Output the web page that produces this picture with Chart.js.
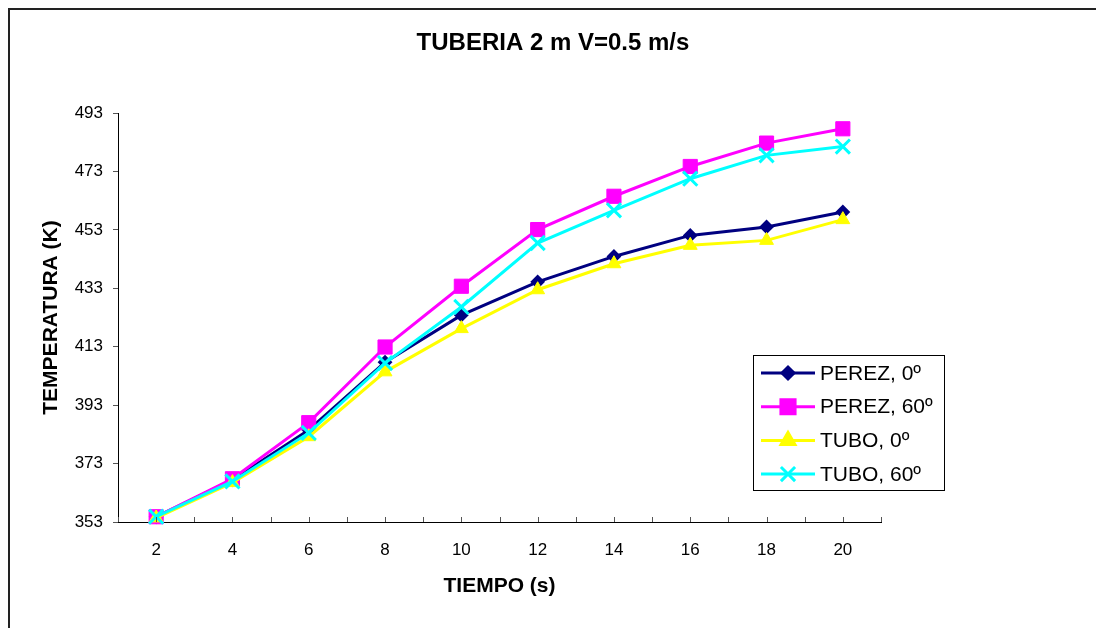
<!DOCTYPE html>
<html>
<head>
<meta charset="utf-8">
<script src="https://cdn.jsdelivr.net/npm/chart.js@4/dist/chart.umd.min.js"></script>
<style>
  html, body { margin: 0; padding: 0; background: #fff; overflow: hidden; }
  #wrap { position: relative; width: 1096px; height: 628px; }
  #frame { position: absolute; left: 8px; top: 8px; width: 1200px; height: 700px;
           border-top: 2px solid #222; border-left: 2px solid #222; }
  #wrap canvas { position: absolute; left: 0; top: 0; }
</style>
</head>
<body>
<div id="wrap">
  <div id="frame"></div>
  <canvas id="grafico"></canvas>
</div>
<script>
// Datos
var tiempos = [2, 4, 6, 8, 10, 12, 14, 16, 18, 20];
var perez0  = [354.8, 367.4, 384.5, 407.7, 423.8, 435.2, 443.9, 451.1, 454.0, 459.1];
var perez60 = [354.8, 367.8, 387.0, 412.9, 433.7, 453.1, 464.5, 474.7, 482.7, 487.6];
var tubo0   = [354.4, 366.5, 382.2, 404.4, 419.2, 432.5, 441.4, 447.7, 449.4, 456.5];
var tubo60  = [354.8, 366.9, 383.5, 407.4, 426.6, 448.5, 459.7, 470.5, 478.5, 481.5];
var ticksY  = [353, 373, 393, 413, 433, 453, 473, 493];
var etiquetas = ['PEREZ, 0º', 'PEREZ, 60º', 'TUBO, 0º', 'TUBO, 60º'];

var fuente = "'Liberation Sans', Arial, sans-serif";

// Construir los puntos x/y
function puntos(valores) {
    return tiempos.map(function (t, i) { return { x: t, y: valores[i] }; });
}

// Marcas de graduacion del eje X hacia adentro
var marcasX = {
    id: 'marcasX',
    afterDraw: function (chart) {
        var ctx = chart.ctx;
        var xs = chart.scales.x;
        ctx.save();
        ctx.strokeStyle = '#555';
        ctx.lineWidth = 1;
        for (var v = 1; v <= 21; v++) {
            var px = Math.round(xs.getPixelForValue(v)) + 0.5;
            ctx.beginPath();
            ctx.moveTo(px, xs.top);
            ctx.lineTo(px, xs.top - 5);
            ctx.stroke();
        }
        ctx.restore();
    }
};

// Leyenda dibujada a mano (linea + marcador)
var leyenda = {
    id: 'leyenda',
    afterDraw: function (chart) {
        var ctx = chart.ctx;
        var x0 = 753, y0 = 355, w = 191, h = 135;
        ctx.save();
        ctx.fillStyle = '#fff';
        ctx.fillRect(x0, y0, w, h);
        ctx.strokeStyle = '#000';
        ctx.lineWidth = 1;
        ctx.strokeRect(x0 + 0.5, y0 + 0.5, w, h);
        chart.data.datasets.forEach(function (ds, i) {
            var y = y0 + 18 + i * 33.7;
            ctx.strokeStyle = ds.borderColor;
            ctx.lineWidth = ds.borderWidth;
            ctx.beginPath();
            ctx.moveTo(x0 + 8, y);
            ctx.lineTo(x0 + 62, y);
            ctx.stroke();
            ctx.fillStyle = ds.pointBackgroundColor;
            ctx.strokeStyle = ds.pointBorderColor;
            Chart.helpers.drawPoint(ctx, {
                pointStyle: ds.pointStyle,
                radius: ds.pointRadius,
                borderWidth: ds.pointBorderWidth,
                rotation: 0
            }, x0 + 35, y);
            ctx.fillStyle = '#000';
            ctx.font = '21px ' + fuente;
            ctx.textBaseline = 'middle';
            ctx.textAlign = 'left';
            ctx.fillText(ds.label, x0 + 67, y + 1);
        });
        ctx.restore();
    }
};

function serie(label, valores, color, estilo, radio, orden, bordePunto) {
    return {
        label: label,
        data: puntos(valores),
        borderColor: color,
        backgroundColor: color,
        borderWidth: 3,
        pointStyle: estilo,
        pointRadius: radio,
        pointHoverRadius: radio,
        pointBackgroundColor: color,
        pointBorderColor: color,
        pointBorderWidth: bordePunto,
        order: orden,
        clip: false,
        tension: 0
    };
}

var ctx = document.getElementById('grafico');
new Chart(ctx, {
    type: 'line',
    data: {
        datasets: [
            serie(etiquetas[0], perez0, '#000080', 'rectRot', 6, 4, 2),
            serie(etiquetas[1], perez60, '#FF00FF', 'rect', 10, 3, 1),
            serie(etiquetas[2], tubo0, '#FFFF00', 'triangle', 8, 2, 1),
            serie(etiquetas[3], tubo60, '#00FFFF', 'crossRot', 10, 1, 3)
        ]
    },
    options: {
        responsive: true,
        maintainAspectRatio: false,
        animation: false,
        events: [],
        layout: { padding: { left: 35, right: 25, top: 0, bottom: 0 } },
        plugins: {
            legend: { display: false },
            tooltip: { enabled: false },
            title: {
                display: true,
                text: 'TUBERIA 2 m V=0.5 m/s',
                color: '#000',
                font: { family: fuente, size: 24, weight: 'bold' },
                padding: { top: 28.6, bottom: 55.6 }
            }
        },
        scales: {
            x: {
                type: 'linear',
                min: 1,
                max: 21,
                afterFit: function (s) { s.height = 106; },
                grid: { display: false, drawTicks: false },
                border: { display: true, color: '#000', width: 1 },
                ticks: {
                    stepSize: 1,
                    autoSkip: false,
                    maxRotation: 0,
                    padding: 18,
                    color: '#000',
                    font: { family: fuente, size: 17 },
                    callback: function (v) { return tiempos.indexOf(v) >= 0 ? String(v) : ''; }
                },
                title: {
                    display: true,
                    text: 'TIEMPO (s)',
                    color: '#000',
                    font: { family: fuente, size: 21, weight: 'bold' },
                    padding: { top: 4, bottom: 29 }
                }
            },
            y: {
                min: ticksY[0],
                max: ticksY[ticksY.length - 1],
                afterFit: function (s) { s.width = 83; },
                afterBuildTicks: function (s) { s.ticks = ticksY.map(function (v) { return { value: v }; }); },
                grid: { display: true, drawOnChartArea: false, drawTicks: true, tickLength: 5, color: '#555' },
                border: { display: true, color: '#000', width: 1 },
                ticks: {
                    padding: 10,
                    color: '#000',
                    font: { family: fuente, size: 17 }
                },
                title: {
                    display: true,
                    text: 'TEMPERATURA (K)',
                    color: '#000',
                    font: { family: fuente, size: 21, weight: 'bold' },
                    padding: { top: 4, bottom: 4 }
                }
            },
            yR: {
                position: 'right',
                display: true,
                afterFit: function (s) { s.width = 190; },
                grid: { display: false },
                border: { display: false },
                ticks: { display: false }
            }
        }
    },
    plugins: [marcasX, leyenda]
});
</script>
</body>
</html>
